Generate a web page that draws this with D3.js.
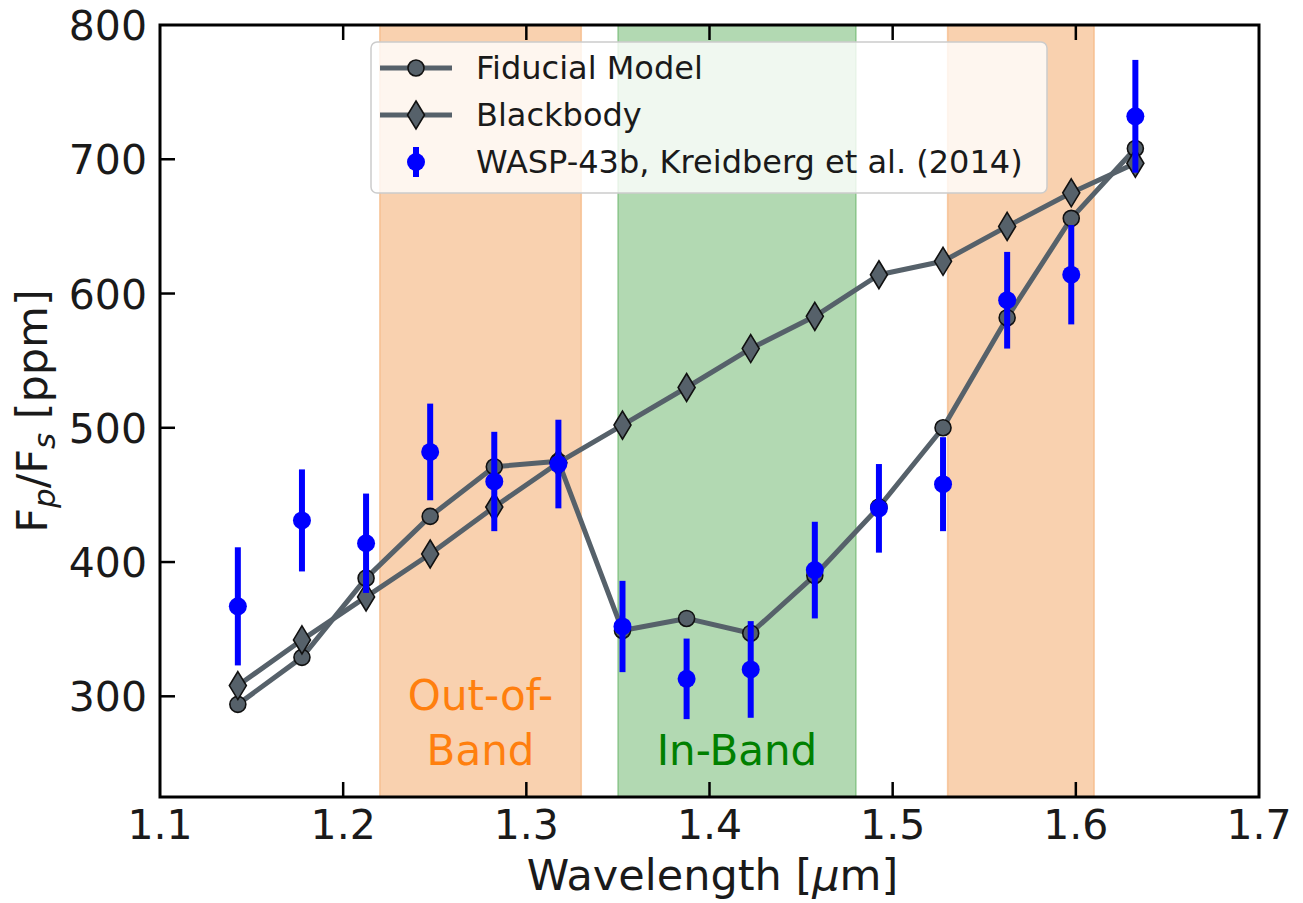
<!DOCTYPE html>
<html>
<head>
<meta charset="utf-8">
<script src="https://cdn.jsdelivr.net/npm/d3@7"></script>
<style>
  html, body { margin: 0; padding: 0; background: #fff; }
  svg { display: block; }
  text { font-family: "DejaVu Sans", sans-serif; }
</style>
</head>
<body>
<svg id="chart" width="1303" height="903"></svg>
<script>
// ---------------- data ----------------
const wavelengths = [1.1425, 1.1775, 1.2125, 1.2475, 1.2825, 1.3175, 1.3525, 1.3875, 1.4225, 1.4575, 1.4925, 1.5275, 1.5625, 1.5975, 1.6325];
const fiducialModel = [294, 329, 388, 434, 471, 475, 349, 358, 347, 390, 441, 500, 582, 656, 708];
const blackbody = [308, 342, 374, 406, 441, 474, 502, 530, 559, 583, 614, 624, 650, 675, 697];
const observed = [367, 431, 414, 482, 460, 473, 352, 313, 320, 394, 440, 458, 595, 614, 732];
const observedErr = [44, 38, 37, 36, 37, 33, 34, 30, 36, 36, 33, 35, 36, 37, 42];

const outOfBandRanges = [[1.22, 1.33], [1.53, 1.61]];
const inBandRange = [1.35, 1.48];

const xTicks = [1.1, 1.2, 1.3, 1.4, 1.5, 1.6, 1.7];
const yTicks = [300, 400, 500, 600, 700, 800];
const xDomain = [1.1, 1.7];
const yDomain = [225, 800];

const legendLabels = ["Fiducial Model", "Blackbody", "WASP-43b, Kreidberg et al. (2014)"];

// ---------------- layout ----------------
const svg = d3.select("#chart");
const L = 160, R = 1259, T = 25, B = 797;
const x = d3.scaleLinear().domain(xDomain).range([L, R]);
const y = d3.scaleLinear().domain(yDomain).range([B, T]);

const lineColor = "#56616a";
const bandOrange = "#f4a460";
const bandGreen = "#008000";

// clip
svg.append("defs").append("clipPath").attr("id", "plotclip")
  .append("rect").attr("x", L).attr("y", T).attr("width", R - L).attr("height", B - T);

const plot = svg.append("g").attr("clip-path", "url(#plotclip)");

// bands
outOfBandRanges.forEach(r => {
  plot.append("rect")
    .attr("x", x(r[0])).attr("y", T - 5)
    .attr("width", x(r[1]) - x(r[0])).attr("height", B - T + 10)
    .attr("fill", bandOrange).attr("fill-opacity", 0.5)
    .attr("stroke", bandOrange).attr("stroke-opacity", 0.5).attr("stroke-width", 1.5);
});
plot.append("rect")
  .attr("x", x(inBandRange[0])).attr("y", T - 5)
  .attr("width", x(inBandRange[1]) - x(inBandRange[0])).attr("height", B - T + 10)
  .attr("fill", bandGreen).attr("fill-opacity", 0.3)
  .attr("stroke", bandGreen).attr("stroke-opacity", 0.3).attr("stroke-width", 1.5);

// band labels
const outText = plot.append("text")
  .attr("text-anchor", "middle")
  .attr("fill", "#ff7f0e")
  .attr("font-size", 42);
outText.append("tspan").attr("x", x((outOfBandRanges[0][0] + outOfBandRanges[0][1]) / 2)).attr("y", y(290)).text("Out-of-");
outText.append("tspan").attr("x", x((outOfBandRanges[0][0] + outOfBandRanges[0][1]) / 2)).attr("y", y(249)).text("Band");
plot.append("text")
  .attr("x", x((inBandRange[0] + inBandRange[1]) / 2)).attr("y", y(249))
  .attr("text-anchor", "middle").attr("fill", "#008000").attr("font-size", 42)
  .text("In-Band");

// lines
const lineGen = d3.line().x(d => x(d[0])).y(d => y(d[1]));
const fidPts = wavelengths.map((w, i) => [w, fiducialModel[i]]);
const bbPts = wavelengths.map((w, i) => [w, blackbody[i]]);

plot.append("path").attr("d", lineGen(fidPts))
  .attr("fill", "none").attr("stroke", lineColor).attr("stroke-width", 5).attr("stroke-linejoin", "round");
plot.selectAll(".fid").data(fidPts).enter().append("circle")
  .attr("cx", d => x(d[0])).attr("cy", d => y(d[1])).attr("r", 8)
  .attr("fill", lineColor).attr("stroke", "#111").attr("stroke-width", 1.6);

const diamond = (cx, cy, hw, hh) => `M${cx},${cy - hh}L${cx + hw},${cy}L${cx},${cy + hh}L${cx - hw},${cy}Z`;
plot.append("path").attr("d", lineGen(bbPts))
  .attr("fill", "none").attr("stroke", lineColor).attr("stroke-width", 5).attr("stroke-linejoin", "round");
plot.selectAll(".bb").data(bbPts).enter().append("path")
  .attr("d", d => diamond(x(d[0]), y(d[1]), 8.5, 14))
  .attr("fill", lineColor).attr("stroke", "#111").attr("stroke-width", 1.6);

// observed
const obs = wavelengths.map((w, i) => [w, observed[i], observedErr[i]]);
plot.selectAll(".err").data(obs).enter().append("line")
  .attr("x1", d => x(d[0])).attr("x2", d => x(d[0]))
  .attr("y1", d => y(d[1] - d[2])).attr("y2", d => y(d[1] + d[2]))
  .attr("stroke", "#0000ff").attr("stroke-width", 6);
plot.selectAll(".obs").data(obs).enter().append("circle")
  .attr("cx", d => x(d[0])).attr("cy", d => y(d[1])).attr("r", 9)
  .attr("fill", "#0000ff");

// legend
const lg = svg.append("g");
lg.append("rect").attr("x", 371).attr("y", 42).attr("width", 676).attr("height", 151)
  .attr("rx", 6).attr("ry", 6)
  .attr("fill", "#fff").attr("fill-opacity", 0.8)
  .attr("stroke", "#cccccc").attr("stroke-width", 1.5);
const rowY = [68, 115, 162];
const hx0 = 380, hx1 = 452, hxc = 416, tx = 476;
// fiducial handle
lg.append("line").attr("x1", hx0).attr("x2", hx1).attr("y1", rowY[0]).attr("y2", rowY[0])
  .attr("stroke", lineColor).attr("stroke-width", 5);
lg.append("circle").attr("cx", hxc).attr("cy", rowY[0]).attr("r", 8)
  .attr("fill", lineColor).attr("stroke", "#111").attr("stroke-width", 1.6);
// blackbody handle
lg.append("line").attr("x1", hx0).attr("x2", hx1).attr("y1", rowY[1]).attr("y2", rowY[1])
  .attr("stroke", lineColor).attr("stroke-width", 5);
lg.append("path").attr("d", diamond(hxc, rowY[1], 8.5, 14))
  .attr("fill", lineColor).attr("stroke", "#111").attr("stroke-width", 1.6);
// observed handle
lg.append("line").attr("x1", hxc).attr("x2", hxc).attr("y1", rowY[2] - 15).attr("y2", rowY[2] + 15)
  .attr("stroke", "#0000ff").attr("stroke-width", 6);
lg.append("circle").attr("cx", hxc).attr("cy", rowY[2]).attr("r", 9).attr("fill", "#0000ff");
legendLabels.forEach((t, i) => {
  lg.append("text").attr("x", tx).attr("y", rowY[i] + 11).attr("font-size", 32).attr("fill", "#1a1a1a").text(t);
});

// axes: spines
const axes = svg.append("g");
axes.append("rect").attr("x", L).attr("y", T).attr("width", R - L).attr("height", B - T)
  .attr("fill", "none").attr("stroke", "#000").attr("stroke-width", 3);

// ticks (inward)
const tickLen = 15;
xTicks.forEach(v => {
  const px = x(v);
  if (v > xDomain[0] + 1e-9 && v < xDomain[1] - 1e-9) {
    axes.append("line").attr("x1", px).attr("x2", px).attr("y1", B).attr("y2", B - tickLen).attr("stroke", "#000").attr("stroke-width", 2.5);
    axes.append("line").attr("x1", px).attr("x2", px).attr("y1", T).attr("y2", T + tickLen).attr("stroke", "#000").attr("stroke-width", 2.5);
  }
  axes.append("text").attr("x", px).attr("y", 839).attr("text-anchor", "middle")
    .attr("font-size", 41).attr("fill", "#1a1a1a").text(d3.format(".1f")(v));
});
yTicks.forEach(v => {
  const py = y(v);
  if (v < yDomain[1] - 1e-9) {
    axes.append("line").attr("x1", L).attr("x2", L + tickLen).attr("y1", py).attr("y2", py).attr("stroke", "#000").attr("stroke-width", 2.5);
  }
  axes.append("text").attr("x", 147).attr("y", py + 15).attr("text-anchor", "end")
    .attr("font-size", 41).attr("fill", "#1a1a1a").text(v);
});

// axis labels
const xl = axes.append("text").attr("x", (L + R) / 2 + 3).attr("y", 890).attr("text-anchor", "middle")
  .attr("font-size", 43).attr("fill", "#1a1a1a");
xl.append("tspan").text("Wavelength [");
xl.append("tspan").attr("font-style", "italic").text("μ");
xl.append("tspan").text("m]");

const yl = axes.append("text").attr("transform", `translate(47,${(T + B) / 2}) rotate(-90)`)
  .attr("text-anchor", "middle").attr("font-size", 43).attr("fill", "#1a1a1a");
yl.append("tspan").text("F");
yl.append("tspan").attr("font-style", "italic").attr("font-size", 31).attr("dy", 8).text("p");
yl.append("tspan").attr("dy", -8).text("/F");
yl.append("tspan").attr("font-style", "italic").attr("font-size", 31).attr("dy", 8).text("s");
yl.append("tspan").attr("dy", -8).text(" [ppm]");
</script>
</body>
</html>
